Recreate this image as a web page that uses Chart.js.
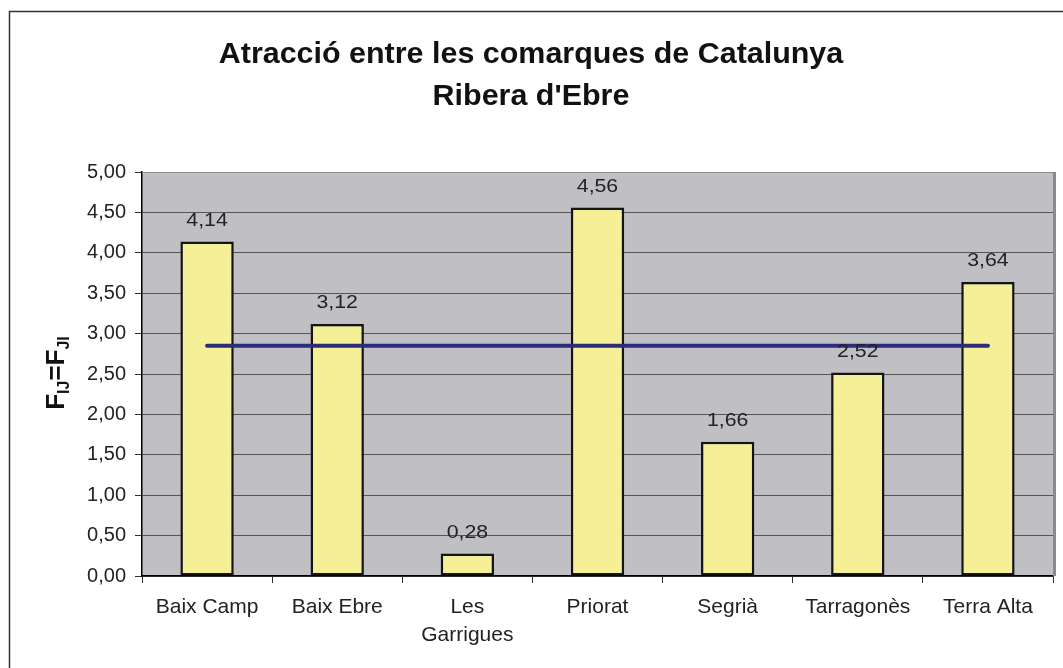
<!DOCTYPE html>
<html>
<head>
<meta charset="utf-8">
<script src="https://cdn.jsdelivr.net/npm/chart.js@4.4.1/dist/chart.umd.min.js"></script>
<style>
  html, body { margin: 0; padding: 0; background: #fff; }
</style>
</head>
<body>
<canvas id="barchart" width="1063" height="668"></canvas>
<script>
// dades llegides del gràfic
const comarques = ['Baix Camp', 'Baix Ebre', ['Les', 'Garrigues'], 'Priorat', 'Segrià', 'Tarragonès', 'Terra Alta'];
const atraccio = [4.14, 3.12, 0.28, 4.56, 1.66, 2.52, 3.64];
const mitjana = [2.85, 2.85, 2.85, 2.85, 2.85, 2.85, 2.85];
const titol = ['Atracció entre les comarques de Catalunya', 'Ribera d\'Ebre'];

const fmt = v => v.toFixed(2).replace('.', ',');

// text una mica eixamplat, com a l'original
function wideText(c, txt, x, y, sx) {
    c.save();
    c.translate(x, y);
    c.scale(sx, 1);
    c.fillText(txt, 0, 0);
    c.restore();
}

// fons gris de l'àrea, marc exterior, títols i etiquetes
const decor = {
    id: 'decor',
    beforeDraw(chart) {
        const c = chart.ctx, a = chart.chartArea;
        c.save();
        c.fillStyle = '#fff';
        c.fillRect(0, 0, chart.width, chart.height);
        c.strokeStyle = '#333';
        c.lineWidth = 1.5;
        c.strokeRect(9.5, 11.5, chart.width + 20, chart.height + 20);
        c.fillStyle = '#c0c0c4';
        c.fillRect(a.left, a.top, a.right - a.left, a.bottom - a.top);
        c.restore();
    },
    afterDatasetsDraw(chart) {
        const c = chart.ctx, a = chart.chartArea;
        c.save();
        // vora de l'àrea de dibuix
        c.strokeStyle = '#8a8a8a';
        c.lineWidth = 1;
        c.beginPath();
        c.moveTo(a.left, a.top + 0.5);
        c.lineTo(a.right, a.top + 0.5);
        c.stroke();
        c.lineWidth = 3;
        c.beginPath();
        c.moveTo(a.right + 1.5, a.top);
        c.lineTo(a.right + 1.5, a.bottom);
        c.stroke();

        // valors sobre les barres
        const meta = chart.getDatasetMeta(0);
        c.fillStyle = '#222';
        c.font = '19px "Liberation Sans", Arial, sans-serif';
        c.textAlign = 'center';
        c.textBaseline = 'middle';
        meta.data.forEach((bar, i) => {
            wideText(c, fmt(atraccio[i]), bar.x, bar.y - 21, 1.12);
        });

        // títol
        c.fillStyle = '#111';
        c.font = 'bold 29px "Liberation Sans", Arial, sans-serif';
        wideText(c, titol[0], 531, 55, 1.05);
        wideText(c, titol[1], 531, 97, 1.05);

        // títol de l'eix Y amb subíndexs
        c.translate(55, 373);
        c.rotate(-Math.PI / 2);
        const parts = [['F', false], ['IJ', true], ['=F', false], ['JI', true]];
        const big = 'bold 26px "Liberation Sans", Arial, sans-serif';
        const small = 'bold 16px "Liberation Sans", Arial, sans-serif';
        let total = 0;
        parts.forEach(p => { c.font = p[1] ? small : big; total += c.measureText(p[0]).width; });
        let x = -total / 2;
        c.textAlign = 'left';
        c.textBaseline = 'alphabetic';
        parts.forEach(p => {
            c.font = p[1] ? small : big;
            c.fillText(p[0], x, p[1] ? 14 : 9);
            x += c.measureText(p[0]).width;
        });
        c.restore();
    }
};

const ctx = document.getElementById('barchart').getContext('2d');
const barchart = new Chart(ctx, {
    type: 'bar',
    data: {
        labels: comarques,
        datasets: [{
            label: 'Atracció',
            data: atraccio,
            backgroundColor: '#f5ef98',
            borderColor: '#141414',
            borderWidth: 2.5,
            borderSkipped: false,
            categoryPercentage: 1,
            barPercentage: 0.41,
            order: 1
        }, {
            type: 'line',
            label: 'Mitjana',
            data: mitjana,
            borderColor: '#2c2c7c',
            borderWidth: 4,
            borderCapStyle: 'round',
            pointRadius: 0,
            fill: false,
            order: 0
        }]
    },
    options: {
        responsive: false,
        animation: false,
        layout: { padding: { top: 172, right: 10, left: 0, bottom: 0 } },
        plugins: {
            legend: { display: false },
            tooltip: { enabled: false },
            title: { display: false }
        },
        scales: {
            x: {
                afterFit(s) { s.height = 92; },
                grid: {
                    offset: true,
                    drawOnChartArea: false,
                    tickLength: 7,
                    tickColor: '#333'
                },
                border: { color: '#000', width: 1.5 },
                ticks: {
                    color: '#222',
                    padding: 11,
                    maxRotation: 0,
                    font: { family: '"Liberation Sans", Arial, sans-serif', size: 21, lineHeight: 1.3 }
                }
            },
            y: {
                min: 0,
                max: 5,
                afterFit(s) { s.width = 142; },
                grid: {
                    color: '#555',
                    lineWidth: 1,
                    tickLength: 7,
                    tickColor: '#333'
                },
                border: { color: '#000', width: 1.5 },
                ticks: {
                    stepSize: 0.5,
                    color: '#222',
                    padding: 9,
                    callback: v => fmt(v),
                    font: { family: '"Liberation Sans", Arial, sans-serif', size: 20 }
                }
            }
        }
    },
    plugins: [decor]
});
</script>
</body>
</html>
